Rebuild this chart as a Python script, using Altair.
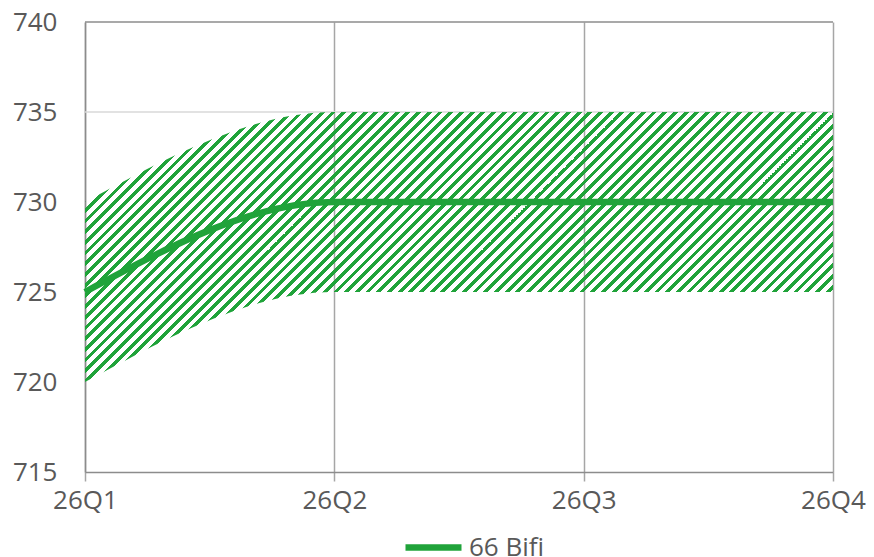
import altair as alt
import pandas as pd

quarters = ["26Q1", "26Q2", "26Q3", "26Q4"]
bifi = [725, 730, 730, 730]
band_low = [720, 725, 725, 725]
band_high = [730, 735, 735, 735]
y_ticks = [715, 720, 725, 730, 735, 740]
series_name = "66 Bifi"

df = pd.DataFrame({"q": quarters, "v": bifi, "lo": band_low, "hi": band_high,
                   "s": [series_name] * 4})

GREEN = "#20a33a"
FONT = "Open Sans"
W, H = 748, 450

# hatch style: diagonal stripes as a repeating linear gradient
bw, bh = float(W), 270.0
s = (bw + bh) / (bw + bh * bh / bw)
period = 10.7 / (bw + bh)
frac = 0.45
stops = []
o = 0.0
clear = "rgba(255,255,255,0)"
while o < 1.0:
    a = o
    b = min(o + period * frac, 1.0)
    c = min(o + period, 1.0)
    stops += [alt.GradientStop(offset=a, color=GREEN), alt.GradientStop(offset=b, color=GREEN),
              alt.GradientStop(offset=b, color=clear), alt.GradientStop(offset=c, color=clear)]
    o += period
hatch = alt.Gradient(gradient="linear", stops=stops, x1=0, y1=0, x2=s, y2=s * bh / bw)

xs = alt.X("q:O", scale=alt.Scale(type="point", padding=0, domain=quarters),
           axis=alt.Axis(title=None, labelAngle=0, labelFontSize=26, labelFont=FONT,
                         labelColor="#595959", domainColor="#8c8c8c", domainWidth=1.5,
                         tickColor="#a6a6a6", tickSize=9, tickWidth=1.5,
                         grid=True, gridColor="#a6a6a6", gridWidth=1.5, labelPadding=6))
ysc = alt.Scale(domain=[715, 740], nice=False, zero=False)

area = alt.Chart(df).mark_area(fill=hatch, interpolate="monotone", strokeWidth=0).encode(
    x=xs,
    y=alt.Y("lo:Q", scale=ysc,
            axis=alt.Axis(title=None, values=y_ticks, labelFontSize=26, labelFont=FONT,
                          labelColor="#595959", domainColor="#8c8c8c", domainWidth=1.5,
                          ticks=False, grid=False, labelPadding=28)),
    y2="hi:Q",
)

line = alt.Chart(df).mark_line(strokeWidth=6.5, interpolate="monotone").encode(
    x=alt.X("q:O", scale=alt.Scale(type="point", padding=0, domain=quarters)),
    y=alt.Y("v:Q", scale=ysc),
    color=alt.Color("s:N", scale=alt.Scale(domain=[series_name], range=[GREEN]),
                    legend=alt.Legend(title=None, orient="none", legendX=317, legendY=494,
                                      padding=0, symbolType="stroke", symbolStrokeWidth=6.5,
                                      symbolSize=3136, labelFontSize=26, labelFont=FONT,
                                      labelColor="#595959", labelOffset=4)),
)

grid735 = alt.Chart(pd.DataFrame({"y": [735]})).mark_rule(color="#d9d9d9", strokeWidth=1.5).encode(
    y=alt.Y("y:Q", scale=ysc))
top740 = alt.Chart(pd.DataFrame({"y": [740]})).mark_rule(color="#8c8c8c", strokeWidth=1.5).encode(
    y=alt.Y("y:Q", scale=ysc))

chart = alt.layer(grid735, area, line, top740).properties(
    width=W, height=H,
    autosize=alt.AutoSizeParams(type="none"),
    padding={"left": 77, "top": 14, "right": 33, "bottom": 88},
).configure_view(stroke=None)

chart.save("out.html", embed_options={"renderer": "svg", "actions": False})
